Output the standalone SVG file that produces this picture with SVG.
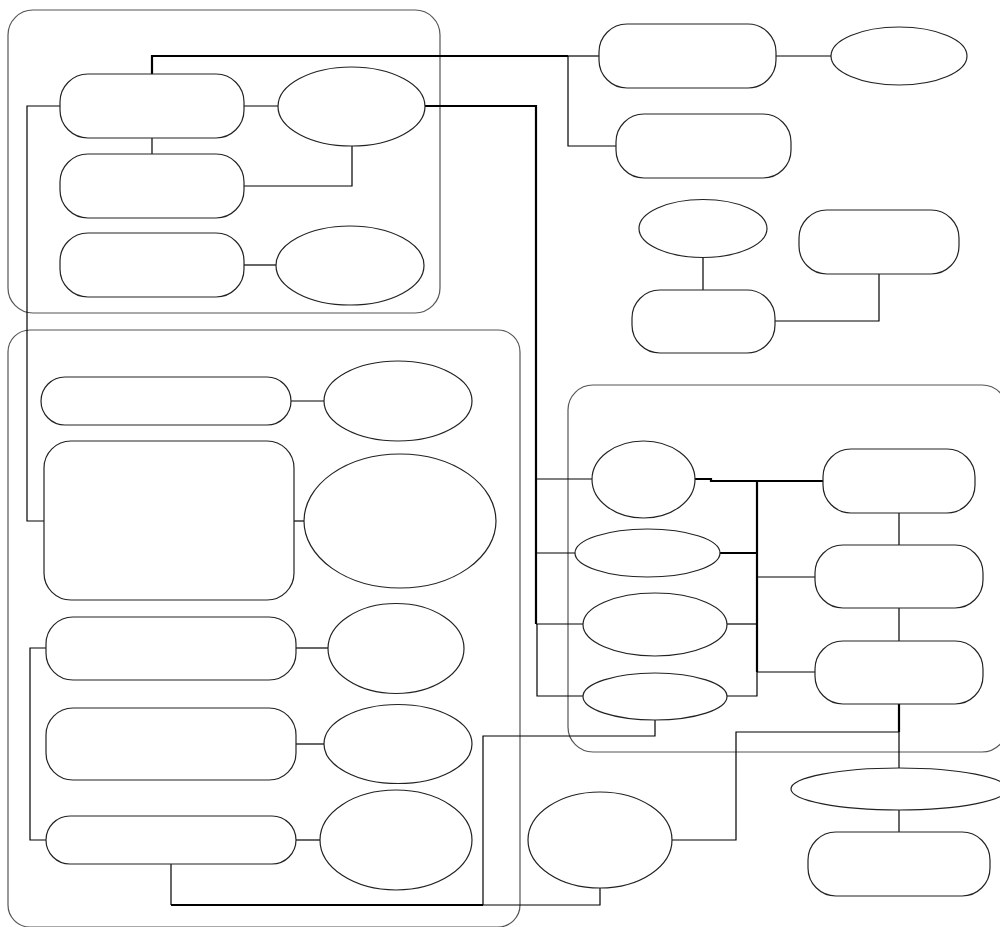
<svg xmlns="http://www.w3.org/2000/svg" width="1000" height="927" viewBox="0 0 1000 927">
<style>
.grp{fill:none;stroke:#555;stroke-width:1.2}
.n{fill:#fff;stroke:#222;stroke-width:1.2}
.c{fill:none;stroke:#000;stroke-width:1.2}
.t{fill:none;stroke:#000;stroke-width:2.2}
</style>
<rect width="1000" height="927" fill="#fff"/>
<g id="groups">
<rect id="group1" class="grp" x="8" y="10" width="432" height="303" rx="25"/>
<rect id="group2" class="grp" x="8" y="330" width="512" height="597" rx="22"/>
<rect id="group3" class="grp" x="568" y="385" width="439" height="367" rx="25"/>
</g>
<g id="connectors">
<path class="t" d="M152,74 V56 H568"/>
<path class="c" d="M568,56 H599"/>
<path class="c" d="M568,56 V146 H616"/>
<path class="c" d="M776,56 H831"/>
<path class="c" d="M244,106 H278"/>
<path class="c" d="M152,138 V154"/>
<path class="c" d="M244,186 H352 V146"/>
<path class="c" d="M244,265 H276"/>
<path class="c" d="M60,106 H27 V521 H44"/>
<path class="c" d="M703,258 V290"/>
<path class="c" d="M775,321 H879 V274"/>
<path class="t" d="M425,106 H536 V624"/>
<path class="c" d="M536,479 H592"/>
<path class="c" d="M536,553 H575"/>
<path class="c" d="M536,624 H583"/>
<path class="c" d="M537,624 V696 H583"/>
<path class="t" d="M695,479 H711 V481 H823"/>
<path class="t" d="M757,481 V672"/>
<path class="t" d="M720,553 H757"/>
<path class="c" d="M727,624 H757"/>
<path class="c" d="M727,696 H757 V672"/>
<path class="c" d="M757,577 H815"/>
<path class="c" d="M757,672 H815"/>
<path class="c" d="M899,513 V545"/>
<path class="c" d="M899,608 V641"/>
<path class="t" d="M899,704 V732"/>
<path class="c" d="M899,732 V768"/>
<path class="c" d="M899,810 V832"/>
<path class="c" d="M899,732 H736 V840 H672"/>
<path class="c" d="M291,401 H324"/>
<path class="c" d="M294,521 H304"/>
<path class="c" d="M296,648 H328"/>
<path class="c" d="M296,744 H324"/>
<path class="c" d="M296,840 H320"/>
<path class="c" d="M46,648 H30 V840 H46"/>
<path class="c" d="M171,864 V905"/>
<path class="t" d="M171,905 H483"/>
<path class="c" d="M483,905 V736 H655 V720"/>
<path class="c" d="M483,905 H600 V888"/>
</g>
<g id="nodeA"><rect class="n" x="60" y="74" width="184" height="64" rx="28"/></g>
<g id="nodeB"><ellipse class="n" cx="351.5" cy="106.5" rx="73.5" ry="39.5"/></g>
<g id="nodeC"><rect class="n" x="60" y="154" width="184" height="64" rx="28"/></g>
<g id="nodeD"><rect class="n" x="60" y="233" width="184" height="64" rx="28"/></g>
<g id="nodeE"><ellipse class="n" cx="350" cy="265.5" rx="74" ry="39.5"/></g>
<g id="nodeF"><rect class="n" x="599" y="24" width="177" height="64" rx="28"/></g>
<g id="nodeT"><ellipse class="n" cx="899" cy="56" rx="68" ry="29"/></g>
<g id="nodeG"><rect class="n" x="616" y="114" width="175" height="64" rx="28"/></g>
<g id="nodeU"><ellipse class="n" cx="703" cy="228.5" rx="64" ry="29"/></g>
<g id="nodeV"><rect class="n" x="632" y="290" width="143" height="63" rx="28"/></g>
<g id="nodeW"><rect class="n" x="799" y="210" width="160" height="64" rx="28"/></g>
<g id="nodeQ1"><rect class="n" x="41" y="377" width="250" height="48" rx="24"/></g>
<g id="nodeR1"><ellipse class="n" cx="398" cy="401" rx="74" ry="40"/></g>
<g id="nodeQ2"><rect class="n" x="44" y="441" width="250" height="159" rx="27"/></g>
<g id="nodeR2"><ellipse class="n" cx="400" cy="521" rx="96" ry="67"/></g>
<g id="nodeQ3"><rect class="n" x="46" y="617" width="250" height="63" rx="27"/></g>
<g id="nodeR3"><ellipse class="n" cx="396" cy="648.5" rx="68" ry="45"/></g>
<g id="nodeQ4"><rect class="n" x="46" y="708" width="250" height="72" rx="27"/></g>
<g id="nodeR4"><ellipse class="n" cx="398" cy="744" rx="74" ry="39.5"/></g>
<g id="nodeQ5"><rect class="n" x="46" y="816" width="250" height="48" rx="24"/></g>
<g id="nodeR5"><ellipse class="n" cx="396" cy="840" rx="76" ry="50"/></g>
<g id="nodeH"><ellipse class="n" cx="643.5" cy="479.5" rx="51.5" ry="38.5"/></g>
<g id="nodeI"><ellipse class="n" cx="647.5" cy="553" rx="72.5" ry="24"/></g>
<g id="nodeJ"><ellipse class="n" cx="655" cy="624.5" rx="72" ry="31.5"/></g>
<g id="nodeK"><ellipse class="n" cx="655" cy="696.5" rx="72" ry="23.5"/></g>
<g id="nodeL"><rect class="n" x="823" y="449" width="152" height="64" rx="28"/></g>
<g id="nodeM"><rect class="n" x="815" y="545" width="168" height="63" rx="28"/></g>
<g id="nodeN"><rect class="n" x="815" y="641" width="168" height="63" rx="28"/></g>
<g id="nodeO"><ellipse class="n" cx="600" cy="840" rx="72" ry="48"/></g>
<g id="nodeS"><ellipse class="n" cx="899" cy="789" rx="108" ry="21"/></g>
<g id="nodeP"><rect class="n" x="808" y="832" width="182" height="64" rx="28"/></g>
</svg>
